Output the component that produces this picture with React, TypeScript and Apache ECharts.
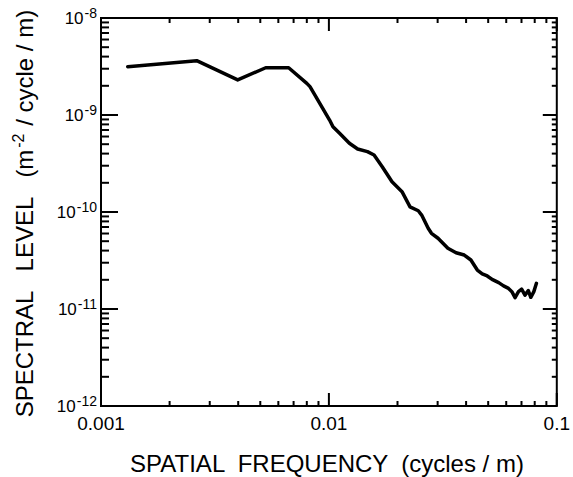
import React, { useEffect, useRef } from 'react';
import * as echarts from 'echarts';

// Spatial frequency (cycles/m) and spectral level (m^-2/cycle/m)
const freq = [0.00131, 0.00263, 0.00398, 0.00528, 0.00666, 0.0080, 0.00826, 0.00912, 0.01007, 0.01042, 0.01114, 0.0123, 0.01337, 0.01476, 0.01578, 0.01714, 0.01892, 0.02093, 0.0227, 0.02467, 0.02553, 0.02727, 0.02818, 0.03012, 0.03327, 0.03614, 0.03926, 0.04198, 0.0448, 0.04709, 0.04952, 0.0520, 0.0556, 0.0584, 0.0614, 0.0635, 0.0656, 0.0679, 0.0701, 0.0725, 0.0750, 0.0769, 0.0793, 0.0814];
const level = [3.15e-9, 3.63e-9, 2.30e-9, 3.07e-9, 3.07e-9, 2.12e-9, 1.96e-9, 1.32e-9, 8.87e-10, 7.58e-10, 6.48e-10, 5.11e-10, 4.46e-10, 4.19e-10, 3.87e-10, 2.93e-10, 2.05e-10, 1.62e-10, 1.13e-10, 1.03e-10, 9.3e-11, 6.79e-11, 6.03e-11, 5.36e-11, 4.23e-11, 3.80e-11, 3.60e-11, 3.20e-11, 2.52e-11, 2.30e-11, 2.19e-11, 2.02e-11, 1.87e-11, 1.73e-11, 1.63e-11, 1.51e-11, 1.31e-11, 1.51e-11, 1.60e-11, 1.39e-11, 1.55e-11, 1.32e-11, 1.51e-11, 1.84e-11];

// Axis ticks
const xMajorTicks = [0.001, 0.01, 0.1];
const xTickLabels = ['0.001', '0.01', '0.1'];
const xMinorTicks = [0.002, 0.003, 0.004, 0.005, 0.006, 0.007, 0.008, 0.009, 0.02, 0.03, 0.04, 0.05, 0.06, 0.07, 0.08, 0.09];
const yMajorTicks = [1e-12, 1e-11, 1e-10, 1e-9, 1e-8];
const yExponents = ['-12', '-11', '-10', '-9', '-8'];
const yMinorTicks = [
  2e-12, 3e-12, 4e-12, 5e-12, 6e-12, 7e-12, 8e-12, 9e-12,
  2e-11, 3e-11, 4e-11, 5e-11, 6e-11, 7e-11, 8e-11, 9e-11,
  2e-10, 3e-10, 4e-10, 5e-10, 6e-10, 7e-10, 8e-10, 9e-10,
  2e-9, 3e-9, 4e-9, 5e-9, 6e-9, 7e-9, 8e-9, 9e-9,
];

const X_MIN = 0.001, X_MAX = 0.1, Y_MIN = 1e-12, Y_MAX = 1e-8;
const FONT = '"Liberation Sans", Arial, sans-serif';

function xTickSeries(values: number[], bottomLen: number, topLen: number) {
  return {
    type: 'custom',
    silent: true,
    clip: false,
    data: values.map((v) => [v, Y_MIN]),
    renderItem: (params: any, api: any) => {
      const x = api.coord([api.value(0), Y_MIN])[0];
      const cs = params.coordSys;
      const yb = cs.y + cs.height;
      const st = { stroke: '#000', lineWidth: 2 };
      return {
        type: 'group',
        children: [
          { type: 'line', shape: { x1: x, y1: yb, x2: x, y2: yb - bottomLen }, style: st },
          { type: 'line', shape: { x1: x, y1: cs.y, x2: x, y2: cs.y + topLen }, style: st },
        ],
      };
    },
  };
}

function yTickSeries(values: number[], leftLen: number, rightLen: number) {
  return {
    type: 'custom',
    silent: true,
    clip: false,
    data: values.map((v) => [X_MIN, v]),
    renderItem: (params: any, api: any) => {
      const y = api.coord([X_MIN, api.value(1)])[1];
      const cs = params.coordSys;
      const xr = cs.x + cs.width;
      const st = { stroke: '#000', lineWidth: 2 };
      return {
        type: 'group',
        children: [
          { type: 'line', shape: { x1: cs.x, y1: y, x2: cs.x + leftLen, y2: y }, style: st },
          { type: 'line', shape: { x1: xr, y1: y, x2: xr - rightLen, y2: y }, style: st },
        ],
      };
    },
  };
}

export default function App() {
  const ref = useRef<HTMLDivElement>(null);
  useEffect(() => {
    if (!ref.current) return;
    const chart = echarts.init(ref.current, undefined, { renderer: 'svg' });
    const expOf = (v: number) => Math.round(Math.log10(v));
    chart.setOption({
      animation: false,
      backgroundColor: '#fff',
      grid: {
        left: 101, right: 9, top: 18, bottom: 71,
        show: true, borderColor: '#000', borderWidth: 2, backgroundColor: 'transparent',
      },
      xAxis: {
        type: 'log', logBase: 10, min: X_MIN, max: X_MAX,
        axisLine: { show: false }, axisTick: { show: false }, splitLine: { show: false },
        axisLabel: {
          show: true, margin: 8, color: '#000', fontFamily: FONT, fontSize: 19,
          showMinLabel: true, showMaxLabel: true,
          formatter: (v: number) => {
            const e = Math.log10(v);
            if (Math.abs(e - Math.round(e)) > 1e-6) return '';
            const i = xMajorTicks.findIndex((t) => Math.abs(Math.log10(t) - e) < 1e-6);
            return i >= 0 ? xTickLabels[i] : '';
          },
        },
      },
      yAxis: {
        type: 'log', logBase: 10, min: Y_MIN, max: Y_MAX,
        axisLine: { show: false }, axisTick: { show: false }, splitLine: { show: false },
        axisLabel: {
          show: true, margin: 4, color: '#000', fontFamily: FONT,
          showMinLabel: true, showMaxLabel: true,
          formatter: (v: number) => {
            const e = Math.log10(v);
            if (Math.abs(e - Math.round(e)) > 1e-6) return '';
            const i = yMajorTicks.findIndex((t) => expOf(t) === Math.round(e));
            return i >= 0 ? `{b|10}{s|${yExponents[i]}}` : '';
          },
          rich: {
            b: { fontSize: 17, fontFamily: FONT, color: '#000' },
            s: { fontSize: 14, fontFamily: FONT, color: '#000', padding: [0, 0, 10, 1] },
          },
        },
      },
      graphic: [
        {
          type: 'text', x: 327, y: 463,
          style: {
            text: 'SPATIAL  FREQUENCY  (cycles / m)',
            font: `24px ${FONT}`, fill: '#000', align: 'center', verticalAlign: 'middle',
          },
        },
        {
          type: 'text', x: 24, y: 214, rotation: Math.PI / 2,
          style: {
            text: '{t|SPECTRAL   LEVEL   (m}{s|-2}{t| / cycle / m)}',
            align: 'center', verticalAlign: 'middle', fill: '#000',
            rich: {
              t: { fontSize: 24, fontFamily: FONT, fill: '#000' },
              s: { fontSize: 16, fontFamily: FONT, fill: '#000', padding: [0, 1, 12, 1] },
            },
          },
        },
      ],
      series: [
        {
          type: 'line',
          data: freq.map((f, i) => [f, level[i]]),
          showSymbol: false,
          lineStyle: { color: '#000', width: 3.5, join: 'round', cap: 'round' },
          silent: true,
        },
        xTickSeries(xMajorTicks, 13, 13),
        xTickSeries(xMinorTicks, 5, 5),
        yTickSeries(yMajorTicks, 17, 14),
        yTickSeries(yMinorTicks, 8, 5),
      ],
    });
    return () => chart.dispose();
  }, []);
  return <div ref={ref} style={{ position: 'fixed', left: 0, top: 0, width: 573, height: 477, background: '#fff' }} />;
}
